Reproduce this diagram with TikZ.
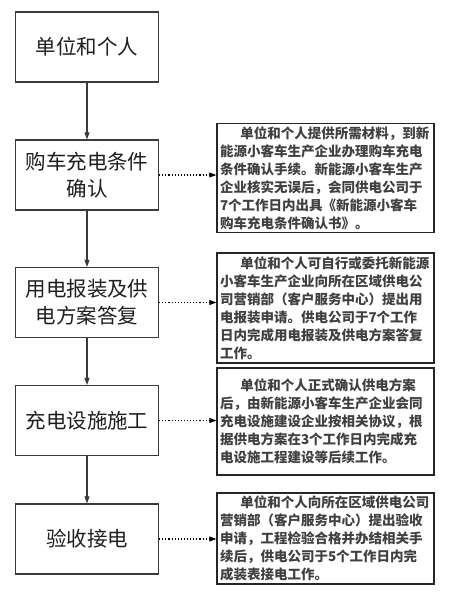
\documentclass[tikz,border=0pt]{standalone}
\usepackage{fontspec}
\setmainfont{Noto Sans CJK SC}
\usetikzlibrary{arrows.meta}
\definecolor{lineg}{HTML}{3A3A3A}
\definecolor{textg}{HTML}{1E1E1E}

\begin{document}
\begin{tikzpicture}[x=1pt, y=-1pt,
  stepbox/.style={rectangle, draw=lineg, line width=1.2pt, minimum width=143pt, minimum height=70pt, font=\fontsize{20.5}{27}\selectfont, text=textg, align=center, inner sep=2pt},
  notebox/.style={rectangle, draw=black!85, line width=1.4pt, text width=211pt, minimum height=#1, font=\fontsize{13.5}{18}\selectfont\bfseries, text=textg!85, align=left, inner sep=3pt},
  arr/.style={-{Triangle[length=7pt, width=5pt]}, line width=1.1pt, lineg},
  darr/.style={-{Triangle[length=7pt, width=5pt]}, line width=1.1pt, dotted, black},
]
  \useasboundingbox (0,0) rectangle (450,600);

  % Steps on the left
  \node[stepbox] (unit) at (87, 47) {单位和个人};
  \node[stepbox] (confirm) at (87, 175) {购车充电条件\\确认};
  \node[stepbox] (apply) at (87, 302.5) {用电报装及供\\电方案答复};
  \node[stepbox] (build) at (87, 420.5) {充电设施施工};
  \node[stepbox] (accept) at (87, 539) {验收接电};

  % Notes on the right
  \node[notebox=108pt] (noteconfirm) at (325.5, 178) {\hspace*{1.5em}单位和个人提供所需材料，到新\\能源小客车生产企业办理购车充电\\条件确认手续。新能源小客车生产\\企业核实无误后，会同供电公司于\\7个工作日内出具《新能源小客车\\购车充电条件确认书》。};
  \node[notebox=110pt] (noteapply) at (325.5, 308) {\hspace*{1.5em}单位和个人可自行或委托新能源\\小客车生产企业向所在区域供电公\\司营销部（客户服务中心）提出用\\电报装申请。供电公司于7个工作\\日内完成用电报装及供电方案答复\\工作。};
  \node[notebox=107pt] (notebuild) at (325.5, 421.5) {\hspace*{1.5em}单位和个人正式确认供电方案\\后，由新能源小客车生产企业会同\\充电设施建设企业按相关协议，根\\据供电方案在3个工作日内完成充\\电设施工程建设等后续工作。};
  \node[notebox=89pt] (noteaccept) at (325.5, 538.5) {\hspace*{1.5em}单位和个人向所在区域供电公司\\营销部（客户服务中心）提出验收\\申请，工程检验合格并办结相关手\\续后，供电公司于5个工作日内完\\成装表接电工作。};

  % Arrows
  \draw[arr] (unit) -- (confirm);
  \draw[arr] (confirm) -- (apply);
  \draw[arr] (apply) -- (build);
  \draw[arr] (build) -- (accept);

  \draw[darr] (confirm.east) -- (confirm.east -| noteconfirm.west);
  \draw[darr] (apply.east) -- (apply.east -| noteapply.west);
  \draw[darr] (build.east) -- (build.east -| notebuild.west);
  \draw[darr] (accept.east) -- (accept.east -| noteaccept.west);
\end{tikzpicture}
\end{document}
